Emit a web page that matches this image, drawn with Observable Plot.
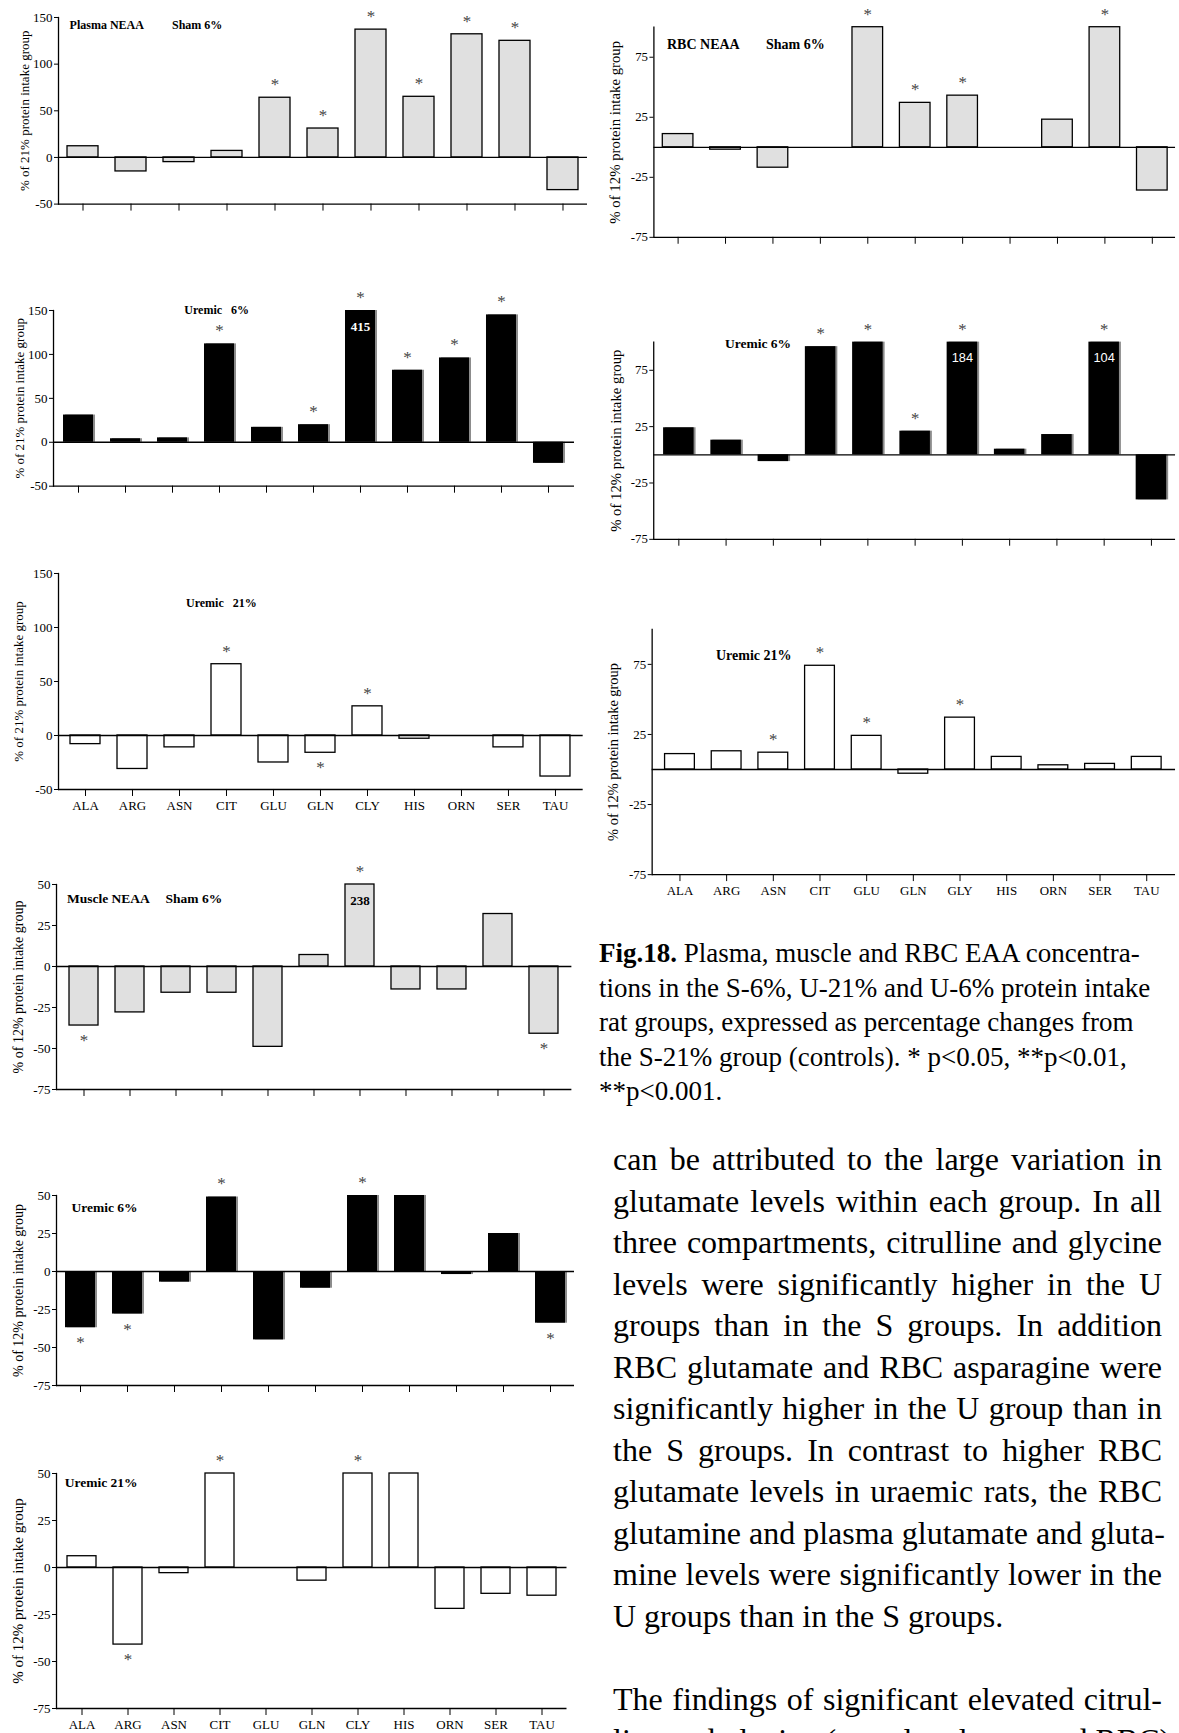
<!DOCTYPE html>
<html>
<head>
<meta charset="utf-8">
<script src="https://cdn.jsdelivr.net/npm/d3@7"></script>
<script src="https://cdn.jsdelivr.net/npm/@observablehq/plot@0.6"></script>
<style>
html, body { margin: 0; padding: 0; background: #fff; overflow: hidden; }
#page { position: relative; width: 1179px; height: 1733px; overflow: hidden; font-family: "Liberation Serif", "Times New Roman", serif; color: #000; }
.panel { position: absolute; }
.ptitle { position: absolute; font-weight: bold; white-space: pre; line-height: 1; }
#caption { position: absolute; left: 599px; top: 936px; font-size: 27px; line-height: 34.5px; white-space: nowrap; }
#body { position: absolute; left: 613px; top: 1139px; width: 549px; font-size: 32px; line-height: 41.5px; }
#body div { white-space: nowrap; }
#body .j { text-align: justify; text-align-last: justify; }
</style>
</head>
<body>
<div id="page"></div>
<script>
// ---------- data ----------
const aminoAcids    = ["ALA","ARG","ASN","CIT","GLU","GLN","CLY","HIS","ORN","SER","TAU"];
const rbcAminoAcids = ["ALA","ARG","ASN","CIT","GLU","GLN","GLY","HIS","ORN","SER","TAU"];

const plasmaSham6      = [12, -15, -5, 7, 64, 31, 137, 65, 132, 125, -35];
const plasmaSham6Sig   = [0, 0, 0, 0, 1, 1, 1, 1, 1, 1, 0];
const plasmaUremic6    = [31, 4, 5, 112, 17, 20, 415, 82, 96, 145, -24];
const plasmaUremic6Sig = [0, 0, 0, 1, 0, 1, 1, 1, 1, 1, 0];
const plasmaUremic21   = [-8, -31, -11, 66, -25, -16, 27, -3, 0, -11, -38];
const plasmaUremic21Sig= [0, 0, 0, 1, 0, 1, 1, 0, 0, 0, 0];

const rbcSham6      = [11, -2, -17, 0, 100, 37, 43, 0, 23, 100, -36];
const rbcSham6Sig   = [0, 0, 0, 0, 1, 1, 1, 0, 0, 1, 0];
const rbcUremic6    = [24, 13, -6, 96, 100, 21, 184, 5, 18, 104, -40];
const rbcUremic6Sig = [0, 0, 0, 1, 1, 1, 1, 0, 0, 1, 0];
const rbcUremic21   = [11, 13, 12, 74, 24, -3, 37, 9, 3, 4, 9];
const rbcUremic21Sig= [0, 0, 1, 1, 1, 0, 1, 0, 0, 0, 0];

const muscleSham6      = [-36, -28, -16, -16, -49, 7, 238, -14, -14, 32, -41];
const muscleSham6Sig   = [1, 0, 0, 0, 0, 0, 1, 0, 0, 0, 1];
const muscleUremic6    = [-37, -28, -7, 49, -45, -11, 50, 50, -2, 25, -34];
const muscleUremic6Sig = [1, 1, 0, 1, 0, 0, 1, 0, 0, 0, 1];
const muscleUremic21   = [6, -41, -3, 50, 0, -7, 50, 50, -22, -14, -15];
const muscleUremic21Sig= [0, 1, 0, 1, 0, 0, 1, 0, 0, 0, 0];

const plasmaDomain = [-50, 150];
const plasmaTicks  = [-50, 0, 50, 100, 150];
const rbcDomain    = [-75, 100];
const rbcTicks     = [-75, -25, 25, 75];
const muscleDomain = [-75, 50];
const muscleTicks  = [-75, -50, -25, 0, 25, 50];

const plasmaYLabel = "% of 21% protein intake group";
const rbcYLabel    = "% of 12% protein intake group";
const muscleYLabel = "% of 12% protein intake group";

const captionLines = [
  ["Fig.18.", " Plasma, muscle and RBC EAA concentra-"],
  ["", "tions in the S-6%, U-21% and U-6% protein intake"],
  ["", "rat groups, expressed as percentage changes from"],
  ["", "the S-21% group (controls). * p<0.05, **p<0.01,"],
  ["", "**p<0.001."]
];
const bodyLines = [
  "can be attributed to the large variation in",
  "glutamate levels within each group. In all",
  "three compartments, citrulline and glycine",
  "levels were significantly higher in the U",
  "groups than in the S groups. In addition",
  "RBC glutamate and RBC asparagine were",
  "significantly higher in the U group than in",
  "the S groups. In contrast to higher RBC",
  "glutamate levels in uraemic rats, the RBC",
  "glutamine and plasma glutamate and gluta-",
  "mine levels were significantly lower in the",
  "U groups than in the S groups.",
  "",
  "The findings of significant elevated citrul-",
  "line and glycine (muscle, plasma and RBC)"
];

// ---------- styles / layout ----------
const barStyles = {
  sham:     {fill: "#e0e0e0", stroke: "#000", shadow: false},
  uremic6:  {fill: "#000", stroke: "none", shadow: true},
  uremic21: {fill: "#fff", stroke: "#000", shadow: false}
};

const panels = [
  {cats: aminoAcids, values: plasmaSham6, sigs: plasmaSham6Sig, domain: plasmaDomain, ticks: plasmaTicks, yLabel: plasmaYLabel, style: "sham", xLabels: false,
   box: {axisX: 58, right: 587, top: 16.7, bottom: 203.3, labelDist: 33.5, labelSize: 13},
   titles: [["Plasma NEAA", 69.6, 26, 12], ["Sham 6%", 172, 26, 12]]},
  {cats: rbcAminoAcids, values: rbcSham6, sigs: rbcSham6Sig, domain: rbcDomain, ticks: rbcTicks, yLabel: rbcYLabel, style: "sham", xLabels: false,
   box: {axisX: 654, right: 1182, top: 26.6, bottom: 239.3, labelDist: 39.5, labelSize: 15},
   titles: [["RBC NEAA", 667, 46, 14], ["Sham 6%", 766, 46, 14]]},
  {cats: aminoAcids, values: plasmaUremic6, sigs: plasmaUremic6Sig, domain: plasmaDomain, ticks: plasmaTicks, yLabel: plasmaYLabel, style: "uremic6", xLabels: false,
   box: {axisX: 52.7, right: 573.7, top: 310, bottom: 485.7, labelDist: 33.7, labelSize: 13},
   big: {fill: "#fff", fontWeight: "bold", fontFamily: "Liberation Serif"},
   titles: [["Uremic   6%", 184.3, 310.7, 12]]},
  {cats: rbcAminoAcids, values: rbcUremic6, sigs: rbcUremic6Sig, domain: rbcDomain, ticks: rbcTicks, yLabel: rbcYLabel, style: "uremic6", xLabels: false,
   box: {axisX: 654, right: 1184, top: 342.4, bottom: 542.7, labelDist: 38.4, labelSize: 15},
   big: {fill: "#fff", fontWeight: "normal", fontFamily: "Liberation Sans"},
   titles: [["Uremic 6%", 725, 345, 13.5]]},
  {cats: aminoAcids, values: plasmaUremic21, sigs: plasmaUremic21Sig, domain: plasmaDomain, ticks: plasmaTicks, yLabel: plasmaYLabel, style: "uremic21", xLabels: true,
   box: {axisX: 58.3, right: 583, top: 572.7, bottom: 788.7, labelDist: 40, labelSize: 13},
   titles: [["Uremic   21%", 186, 603.3, 12]]},
  {cats: rbcAminoAcids, values: rbcUremic21, sigs: rbcUremic21Sig, domain: rbcDomain, ticks: rbcTicks, yLabel: rbcYLabel, style: "uremic21", xLabels: true,
   box: {axisX: 652, right: 1179, top: 628.7, bottom: 875.7, labelDist: 38.7, labelSize: 14.5},
   titles: [["Uremic 21%", 716, 656.7, 14]]},
  {cats: aminoAcids, values: muscleSham6, sigs: muscleSham6Sig, domain: muscleDomain, ticks: muscleTicks, yLabel: muscleYLabel, style: "sham", xLabels: false,
   box: {axisX: 56.4, right: 571.8, top: 884.3, bottom: 1089.3, labelDist: 37.6, labelSize: 14},
   big: {fill: "#000", fontWeight: "bold", fontFamily: "Liberation Serif"},
   titles: [["Muscle NEAA", 67, 899.3, 13.5], ["Sham 6%", 165.5, 899.3, 13.5]]},
  {cats: aminoAcids, values: muscleUremic6, sigs: muscleUremic6Sig, domain: muscleDomain, ticks: muscleTicks, yLabel: muscleYLabel, style: "uremic6", xLabels: false,
   box: {axisX: 55.7, right: 573.7, top: 1195, bottom: 1385, labelDist: 37.7, labelSize: 14},
   titles: [["Uremic 6%", 71.5, 1208.3, 13.5]]},
  {cats: aminoAcids, values: muscleUremic21, sigs: muscleUremic21Sig, domain: muscleDomain, ticks: muscleTicks, yLabel: muscleYLabel, style: "uremic21", xLabels: true,
   box: {axisX: 55.7, right: 566.2, top: 1473.3, bottom: 1708.3, labelDist: 38.7, labelSize: 15},
   titles: [["Uremic 21%", 64.7, 1484, 13.5]]}
];

const page = document.getElementById("page");
const ML = 50, MR = 4, MT = 24, MB = 26;
const SERIF = "'Liberation Serif', 'Times New Roman', serif";

for (const p of panels) {
  const b = p.box;
  const st = barStyles[p.style];
  const rows = p.cats.map((aa, i) => ({aa, v: p.values[i], sig: p.sigs[i]}));
  const marks = [];
  if (st.shadow) marks.push(Plot.barY(rows, {x: "aa", y: "v", fill: "#8c8c8c", dx: 2}));
  marks.push(Plot.barY(rows, {x: "aa", y: "v", fill: st.fill, stroke: st.stroke, strokeWidth: 1.3}));
  marks.push(Plot.ruleY([0], {stroke: "#000", strokeWidth: 1.3}));
  marks.push(Plot.ruleY([p.domain[0]], {stroke: "#000", strokeWidth: 1.3}));
  marks.push(Plot.frame({anchor: "left", stroke: "#000", strokeWidth: 1.3}));
  marks.push(Plot.axisY({ticks: p.ticks, tickSize: 4, tickPadding: 2, fontSize: 13, tickFormat: d => String(d), label: null}));
  marks.push(Plot.axisX({tickSize: 7, tickPadding: 4, fontSize: 13, tickFormat: p.xLabels ? (d => d) : (() => ""), label: null}));
  marks.push(Plot.text(rows.filter(d => d.sig && d.v >= 0), {x: "aa", y: "v", text: () => "*", dy: -13, fontSize: 17, fill: "#444"}));
  marks.push(Plot.text(rows.filter(d => d.sig && d.v < 0), {x: "aa", y: "v", text: () => "*", dy: 15, fontSize: 17, fill: "#444"}));
  if (p.big) {
    marks.push(Plot.text(rows.filter(d => d.v > p.domain[1]), {x: "aa", y: "v", text: d => String(d.v), dy: 16, fontSize: 13,
      fill: p.big.fill, fontWeight: p.big.fontWeight, fontFamily: p.big.fontFamily}));
  }
  marks.push(Plot.text([p.yLabel], {frameAnchor: "left", textAnchor: "middle", rotate: -90, dx: -b.labelDist, fontSize: b.labelSize}));

  const chart = Plot.plot({
    width: b.right - b.axisX + ML + MR,
    height: b.bottom - b.top + MT + MB,
    marginLeft: ML, marginRight: MR, marginTop: MT, marginBottom: MB,
    x: {domain: p.cats, paddingInner: 0.36, paddingOuter: 0.18},
    y: {domain: p.domain, clamp: true},
    style: {fontFamily: SERIF, fontSize: "13px", background: "transparent", overflow: "visible", color: "#000"},
    marks
  });
  const div = document.createElement("div");
  div.className = "panel";
  div.style.left = (b.axisX - ML) + "px";
  div.style.top = (b.top - MT) + "px";
  div.appendChild(chart);
  page.appendChild(div);

  for (const [txt, x, cy, fs] of p.titles) {
    const t = document.createElement("div");
    t.className = "ptitle";
    t.textContent = txt;
    t.style.left = x + "px";
    t.style.top = (cy - 0.56 * fs) + "px";
    t.style.fontSize = fs + "px";
    page.appendChild(t);
  }
}

// caption
const cap = document.createElement("div");
cap.id = "caption";
for (const [bold, rest] of captionLines) {
  const line = document.createElement("div");
  if (bold) { const bb = document.createElement("b"); bb.textContent = bold; line.appendChild(bb); }
  line.appendChild(document.createTextNode(rest));
  cap.appendChild(line);
}
page.appendChild(cap);

// body text
const body = document.createElement("div");
body.id = "body";
bodyLines.forEach((s, i) => {
  const line = document.createElement("div");
  if (s === "") { line.innerHTML = "&nbsp;"; }
  else { line.textContent = s; if (i !== 11) line.className = "j"; }
  body.appendChild(line);
});
page.appendChild(body);
</script>
</body>
</html>
